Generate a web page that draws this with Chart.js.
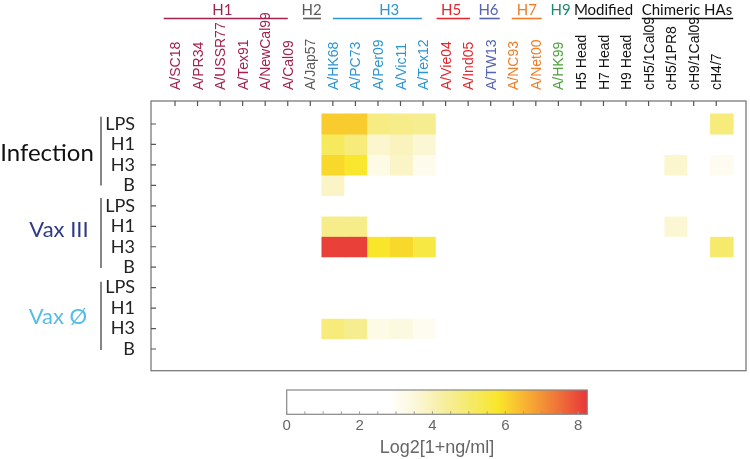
<!DOCTYPE html>
<html><head><meta charset="utf-8">
<script src="https://cdn.jsdelivr.net/npm/chart.js@4.4.1/dist/chart.umd.min.js"></script>
<style>
html,body{margin:0;padding:0;background:#fff;}
#wrap{position:relative;width:750px;height:459px;overflow:hidden;}
#main{position:absolute;left:0;top:0;}
#cbar{position:absolute;left:0;top:380px;}
</style></head><body>
<div id="wrap">
<canvas id="main" width="750" height="459"></canvas>
<canvas id="cbar" width="750" height="79"></canvas>
</div>
<script>
// ---------------- DATA ----------------
const antigens = ['A/SC18','A/PR34','A/USSR77','A/Tex91','A/NewCal99','A/Cal09','A/Jap57',
  'A/HK68','A/PC73','A/Per09','A/Vic11','A/Tex12','A/Vie04','A/Ind05','A/TW13','A/NC93','A/Net00',
  'A/HK99','H5 Head','H7 Head','H9 Head','cH5/1Cal09','cH5/1PR8','cH9/1Cal09','cH4/7'];
const antigenGroups = ['H1','H1','H1','H1','H1','H1','H2','H3','H3','H3','H3','H3','H5','H5','H6',
  'H7','H7','H9','Modified','Modified','Modified','Chimeric HAs','Chimeric HAs','Chimeric HAs','Chimeric HAs'];
const groupNames = ['H1','H2','H3','H5','H6','H7','H9','Modified','Chimeric HAs'];
const sampleLabels = ['LPS','H1','H3','B','LPS','H1','H3','B','LPS','H1','H3','B'];
const cohorts = ['Infection','Vax III','Vax Ø'];
const colorbarTicks = [0,2,4,6,8];
const colorbarMax = 8.25;

// Log2[1+ng/ml] per antigen (25 columns, same order as `antigens`)
const infectionLPS = [0,0,0,0,0,0,0, 6.2,6.2,4.7,4.6,4.5, 0,0,0,0,0,0, 0,0,0, 0,0,0,4.8];
const infectionH1  = [0,0,0,0,0,0,0, 5.2,4.8,3.7,3.9,3.6, 0,0,0,0,0,0, 0,0,0, 0,0,0,0];
const infectionH3  = [0,0,0,0,0,0,0, 6.0,5.75,3.3,3.8,3.2, 0,0,0,0,0,0, 0,0,0, 0,3.7,0,3.1];
const infectionB   = [0,0,0,0,0,0,0, 3.8,0,0,0,0, 0,0,0,0,0,0, 0,0,0, 0,0,0,0];
const vaxIIILPS    = [0,0,0,0,0,0,0, 0,0,0,0,0, 0,0,0,0,0,0, 0,0,0, 0,0,0,0];
const vaxIIIH1     = [0,0,0,0,0,0,0, 4.6,4.6,0,0,0, 0,0,0,0,0,0, 0,0,0, 0,3.6,0,0];
const vaxIIIH3     = [0,0,0,0,0,0,0, 8.1,8.1,5.8,6.0,5.5, 0,0,0,0,0,0, 0,0,0, 0,0,0,5.0];
const vaxIIIB      = [0,0,0,0,0,0,0, 0,0,0,0,0, 0,0,0,0,0,0, 0,0,0, 0,0,0,0];
const vax0LPS      = [0,0,0,0,0,0,0, 0,0,0,0,0, 0,0,0,0,0,0, 0,0,0, 0,0,0,0];
const vax0H1       = [0,0,0,0,0,0,0, 0,0,0,0,0, 0,0,0,0,0,0, 0,0,0, 0,0,0,0];
const vax0H3       = [0,0,0,0,0,0,0, 4.8,4.5,3.3,3.4,3.1, 0,0,0,0,0,0, 0,0,0, 0,0,0,0];
const vax0B        = [0,0,0,0,0,0,0, 0,0,0,0,0, 0,0,0,0,0,0, 0,0,0, 0,0,0,0];

const matrix = [infectionLPS, infectionH1, infectionH3, infectionB,
                vaxIIILPS, vaxIIIH1, vaxIIIH3, vaxIIIB,
                vax0LPS, vax0H1, vax0H3, vax0B];

// ---------------- STYLE ----------------
const colorStops = [[0,'#ffffff'],[2.8,'#ffffff'],[3.5,'#fcf8dc'],[4.3,'#f7eea0'],[5.0,'#f5ea6c'],
  [5.8,'#f9e62a'],[6.5,'#f8b632'],[7.3,'#f07e38'],[8.25,'#e8363a']];
const headerColor = {'H1':'#a3234c','H2':'#5a5a5a','H3':'#2d95d2','H5':'#e2262b','H6':'#5565b0',
  'H7':'#ef7d27','H9':'#1e8a72','Modified':'#111111','Chimeric HAs':'#111111'};
const tickColor = Object.assign({}, headerColor, {'H9':'#4fa23e'});
const cohortColor = ['#111111','#2e3a87','#56bde8'];
// header layout in column units of the label axis
const headerLayout = {
  'H1':{text:2.1, from:-0.5, to:5.0}, 'H2':{text:6.06, from:5.68, to:6.47},
  'H3':{text:9.5, from:7.0, to:10.95}, 'H5':{text:12.24, from:11.6, to:13.08},
  'H6':{text:13.9, from:13.5, to:14.4}, 'H7':{text:15.6, from:14.93, to:16.26},
  'H9':{text:17.1, from:null, to:null}, 'Modified':{text:19.0, from:17.87, to:20.18},
  'Chimeric HAs':{text:22.7, from:20.7, to:24.75}
};
// cohort layout (label x in px, label y and bracket in row units)
const cohortLayout = [
  {x:47, y:1.42, from:-0.36, to:3.0, size:24},
  {x:59, y:5.18, from:3.62, to:7.04, size:22},
  {x:58, y:9.44, from:7.71, to:11.05, size:22}
];

function hexToRgb(h){return [parseInt(h.slice(1,3),16),parseInt(h.slice(3,5),16),parseInt(h.slice(5,7),16)];}
function colorFor(v){
  if (v <= colorStops[0][0]) return colorStops[0][1];
  for (let i=1;i<colorStops.length;i++){
    if (v <= colorStops[i][0]){
      const [a,ca]=colorStops[i-1], [b,cb]=colorStops[i];
      const t=(v-a)/(b-a), A=hexToRgb(ca), B=hexToRgb(cb);
      const c=A.map((x,k)=>Math.round(x+(B[k]-x)*t));
      return 'rgb('+c.join(',')+')';
    }
  }
  return colorStops[colorStops.length-1][1];
}

// ---------------- MAIN CHART ----------------
const datasets = matrix.map((vals, r) => ({
  data: vals.map((v, c) => ({x: c, y: [r - 0.5, r + 0.5]})),
  backgroundColor: vals.map(v => colorFor(v)),
  xAxisID: 'xc', yAxisID: 'y',
  grouped: false, barPercentage: 1, categoryPercentage: 1, borderWidth: 0
}));

const framePlugin = {
  id: 'frameTicks',
  afterDraw(chart){
    const {ctx, chartArea:a} = chart;
    const xs = chart.scales.x, ys = chart.scales.y;
    ctx.save();
    ctx.strokeStyle = '#7a7a7a'; ctx.lineWidth = 1.3;
    ctx.strokeRect(a.left, a.top, a.right - a.left, a.bottom - a.top);
    ctx.strokeStyle = '#555'; ctx.lineWidth = 1.2;
    ctx.beginPath();
    xs.ticks.forEach(t => { const px = xs.getPixelForValue(t.value); ctx.moveTo(px, a.top); ctx.lineTo(px, a.top + 5); });
    ys.ticks.forEach(t => { const py = ys.getPixelForValue(t.value); ctx.moveTo(a.left, py); ctx.lineTo(a.left + 5, py); });
    ctx.stroke();
    // group headers
    ctx.textAlign = 'center'; ctx.textBaseline = 'middle';
    groupNames.forEach(g => {
      const L = headerLayout[g];
      ctx.fillStyle = headerColor[g]; ctx.strokeStyle = headerColor[g];
      ctx.font = '15px Lato';
      ctx.fillText(g, xs.getPixelForValue(L.text), 10);
      if (L.from !== null){
        ctx.lineWidth = 1.6;
        ctx.beginPath();
        ctx.moveTo(xs.getPixelForValue(L.from), 18.5);
        ctx.lineTo(xs.getPixelForValue(L.to), 18.5);
        ctx.stroke();
      }
    });
    // cohorts
    cohorts.forEach((name, i) => {
      const L = cohortLayout[i];
      ctx.fillStyle = cohortColor[i];
      ctx.font = L.size + 'px Lato';
      ctx.fillText(name, L.x, ys.getPixelForValue(L.y));
      ctx.strokeStyle = '#333'; ctx.lineWidth = 1.2;
      ctx.beginPath();
      ctx.moveTo(101, ys.getPixelForValue(L.from));
      ctx.lineTo(101, ys.getPixelForValue(L.to));
      ctx.stroke();
    });
    ctx.restore();
  }
};

new Chart(document.getElementById('main'), {
  type: 'bar',
  data: { datasets },
  options: {
    responsive: false, animation: false,
    plugins: { legend: {display:false}, tooltip: {enabled:false} },
    layout: { padding: {left:0, top:0, right:4, bottom:88.3} },
    scales: {
      xc: { type:'linear', display:false, offset:false, min:-0.971, max:25.055 },
      x: {
        type:'linear', position:'top', offset:false, min:-1.064, max:25.32,
        afterBuildTicks: s => { s.ticks = antigens.map((_, i) => ({value:i})); },
        afterFit: s => { s.height = 101; },
        grid: {display:false, offset:false}, border: {display:false},
        ticks: {
          autoSkip:false, minRotation:90, maxRotation:90, padding:3, labelOffset:18,
          font: {family:'"Liberation Sans", Arial, sans-serif', size:14},
          color: c => tickColor[antigenGroups[c.index]] || '#111',
          callback: v => antigens[v]
        }
      },
      y: {
        type:'linear', reverse:true, min:-1.125, max:12.06,
        afterBuildTicks: s => { s.ticks = sampleLabels.map((_, i) => ({value:i})); },
        afterFit: s => { s.width = 151; },
        grid: {display:false}, border: {display:false},
        ticks: {
          autoSkip:false, padding:8, color:'#222',
          font: {family:'Lato', size:18},
          callback: v => sampleLabels[v]
        }
      }
    }
  },
  plugins: [framePlugin]
});

// ---------------- COLORBAR ----------------
const cbarPlugin = {
  id: 'cbarFrame',
  afterDraw(chart){
    const {ctx, chartArea:a} = chart;
    const xs = chart.scales.x;
    ctx.save();
    ctx.strokeStyle = '#888'; ctx.lineWidth = 1.2;
    ctx.strokeRect(a.left, a.top, a.right - a.left, a.bottom - a.top);
    ctx.strokeStyle = '#999'; ctx.lineWidth = 1;
    ctx.beginPath();
    xs.ticks.forEach(t => {
      const px = xs.getPixelForValue(t.value);
      ctx.moveTo(px, a.bottom); ctx.lineTo(px, a.bottom - 3);
    });
    ctx.stroke();
    ctx.restore();
  }
};

new Chart(document.getElementById('cbar'), {
  type: 'bar',
  data: {
    labels: ['scale'],
    datasets: [{
      data: [[0, colorbarMax]],
      barPercentage: 1, categoryPercentage: 1, borderWidth: 0, inflateAmount: 0,
      backgroundColor: (c) => {
        const ch = c.chart;
        if (!ch.chartArea) return '#fff';
        const xs = ch.scales.x;
        const g = ch.ctx.createLinearGradient(xs.getPixelForValue(0), 0, xs.getPixelForValue(colorbarMax), 0);
        colorStops.forEach(([v, col]) => g.addColorStop(v / colorbarMax, col));
        return g;
      }
    }]
  },
  options: {
    indexAxis: 'y', responsive: false, animation: false,
    plugins: { legend: {display:false}, tooltip: {enabled:false} },
    layout: { padding: {left:286.7, right:162.7, top:10, bottom:0} },
    scales: {
      x: {
        type:'linear', offset:false, min:0, max:colorbarMax,
        afterBuildTicks: s => {
          const t = [];
          for (let i = 0; i <= 16; i++) t.push({value: i / 2});
          s.ticks = t;
        },
        afterFit: s => { s.height = 44.7; },
        grid: {display:false}, border: {display:false},
        ticks: {
          autoSkip:false, maxRotation:0, padding:-5, color:'#666',
          font: {family:'"Liberation Sans", Arial, sans-serif', size:15},
          callback: v => colorbarTicks.includes(v) ? String(v) : ''
        },
        title: {
          display:true, text:'Log2[1+ng/ml]', color:'#666',
          font: {family:'"Liberation Sans", Arial, sans-serif', size:18},
          padding: {top:0, bottom:0}
        }
      },
      y: { display:false }
    }
  },
  plugins: [cbarPlugin]
});
</script>
</body></html>
